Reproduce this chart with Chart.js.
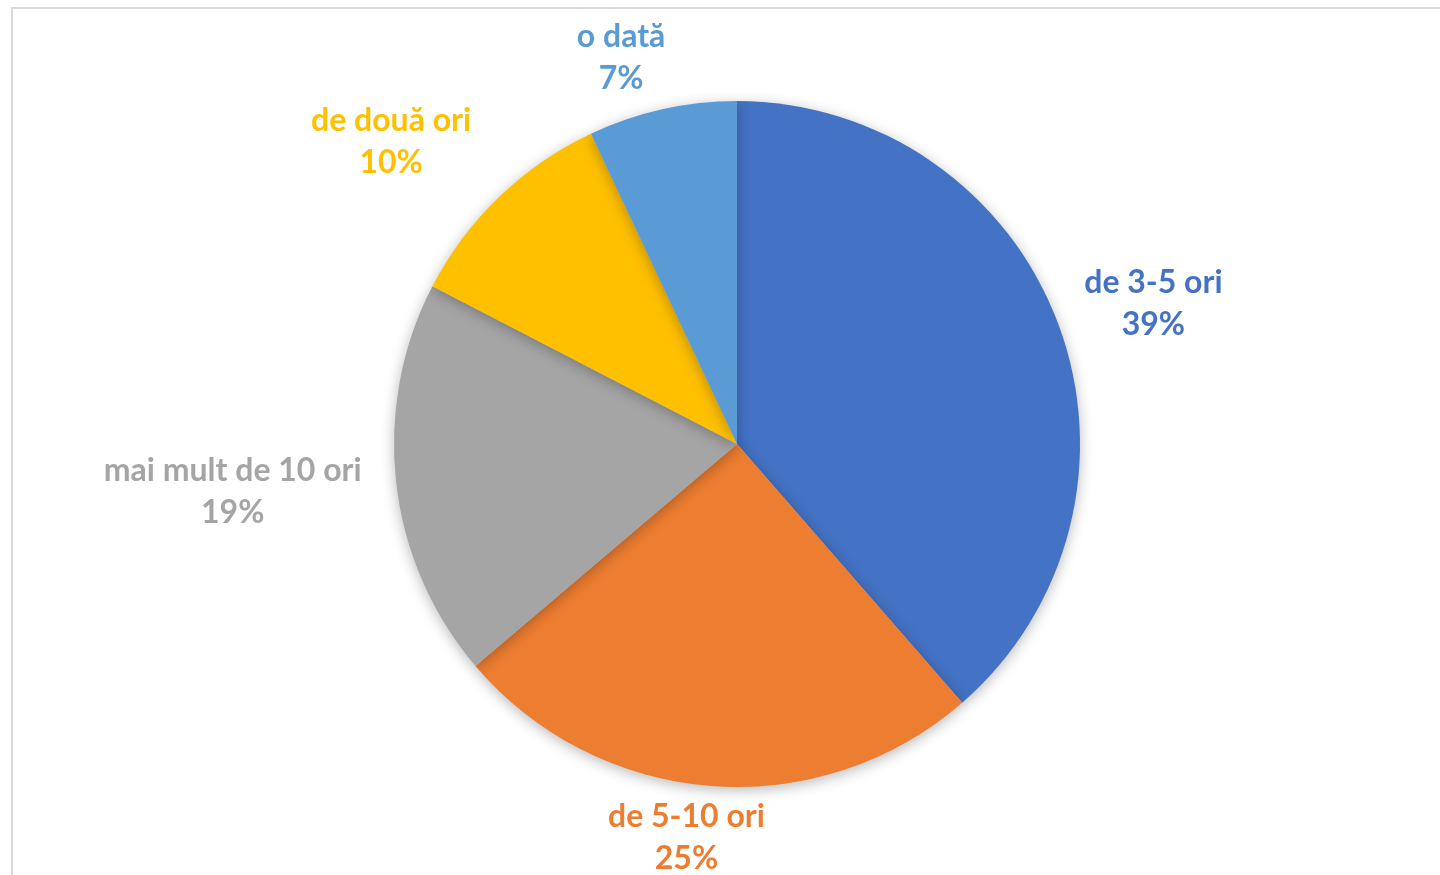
<!DOCTYPE html>
<html>
<head>
<meta charset="utf-8">
<script src="https://cdn.jsdelivr.net/npm/chart.js@4.4.1/dist/chart.umd.min.js"></script>
<style>
  html, body { margin: 0; padding: 0; background: #fff; overflow: hidden; }
  #wrap { position: relative; width: 1440px; height: 875px; }
  #frame { position: absolute; left: 11px; top: 7px; width: 2000px; height: 2000px;
           border-left: 2px solid #d9d9d9; border-top: 2px solid #d9d9d9; }
  canvas { position: absolute; left: 0; top: 0; }
</style>
</head>
<body>
<div id="wrap">
  <div id="frame"></div>
  <canvas id="c" width="1440" height="875"></canvas>
</div>
<script>
const categories = ["de 3-5 ori", "de 5-10 ori", "mai mult de 10 ori", "de două ori", "o dată"];
const shares = [38.6, 25.2, 18.8, 10.4, 7.0];
const sliceColors = ["#4472C4", "#ED7D31", "#A5A5A5", "#FFC000", "#5B9BD5"];

const shadowPlugin = {
  id: 'pieShadow',
  beforeDatasetsDraw(chart) {
    const ctx = chart.ctx;
    ctx.save();
    ctx.shadowColor = 'rgba(0,0,0,0.28)';
    ctx.shadowBlur = 14;
    ctx.shadowOffsetX = 0;
    ctx.shadowOffsetY = 3;
  },
  afterDatasetsDraw(chart) {
    chart.ctx.restore();
  }
};

const labelPlugin = {
  id: 'outsideLabels',
  afterDraw(chart, args, opts) {
    const ctx = chart.ctx;
    const meta = chart.getDatasetMeta(0);
    const values = chart.data.datasets[0].data;
    const total = values.reduce((a, b) => a + b, 0);
    const gap = opts.gap;
    const lineH = opts.lineHeight;
    const halfH = opts.halfHeight;
    ctx.save();
    ctx.font = opts.font;
    ctx.textAlign = 'center';
    ctx.textBaseline = 'middle';
    meta.data.forEach((arc, i) => {
      const p = arc.getProps(['x', 'y', 'startAngle', 'endAngle', 'outerRadius'], true);
      const mid = (p.startAngle + p.endAngle) / 2 + (opts.angleShift[i] || 0) * Math.PI / 180;
      const ux = Math.cos(mid), uy = Math.sin(mid);
      const pct = Math.round(values[i] / total * 100);
      const lines = [chart.data.labels[i], pct + '%'];
      const w = Math.max(...lines.map(t => ctx.measureText(t).width)) / 2;
      const d = Math.abs(ux) * w + Math.abs(uy) * halfH;
      const dist = p.outerRadius + gap + d + (opts.distShift[i] || 0);
      const cx = p.x + ux * dist, cy = p.y + uy * dist;
      ctx.fillStyle = sliceColors[i];
      ctx.fillText(lines[0], cx, cy - lineH / 2);
      ctx.fillText(lines[1], cx, cy + lineH / 2);
    });
    ctx.restore();
  }
};

new Chart(document.getElementById('c'), {
  type: 'pie',
  data: {
    labels: categories,
    datasets: [{
      data: shares,
      backgroundColor: sliceColors,
      borderWidth: 0
    }]
  },
  options: {
    responsive: false,
    animation: false,
    layout: { padding: { left: 394, right: 360, top: 101, bottom: 88 } },
    plugins: {
      legend: { display: false },
      tooltip: { enabled: false },
      outsideLabels: {
        gap: 18,
        lineHeight: 42,
        halfHeight: 34,
        font: 'bold 32px Lato',
        angleShift: [1.9, 3.0, 1.1, -4.9, -4.1],
        distShift: [2, -8, 14, 16, -3]
      }
    }
  },
  plugins: [shadowPlugin, labelPlugin]
});
</script>
</body>
</html>
